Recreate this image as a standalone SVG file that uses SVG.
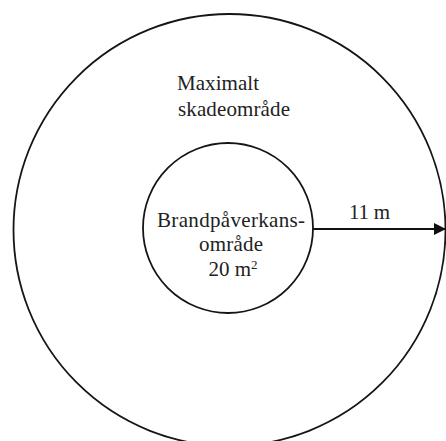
<svg xmlns="http://www.w3.org/2000/svg" width="446" height="441" viewBox="0 0 446 441">
<style>
.c{fill:none;stroke:#151515;stroke-width:1.8}
.t{font-family:'Liberation Serif','DejaVu Serif',serif;font-size:21px;fill:#222}
.m{text-anchor:middle}
</style>
<defs>
<marker id="ah" viewBox="0 0 12 12" refX="12" refY="6" markerWidth="12" markerHeight="12" markerUnits="userSpaceOnUse" orient="auto">
<path d="M0,0 L12,6 L0,12 Z" fill="#111"/>
</marker>
</defs>
<rect width="446" height="441" fill="#fff"/>
<g id="outer">
<circle class="c" cx="229.5" cy="230" r="216"/>
<text class="t" x="177" y="90" textLength="82">Maximalt</text>
<text class="t" x="178" y="116" textLength="112">skadeområde</text>
</g>
<g id="inner">
<circle class="c" cx="228" cy="228" r="85"/>
<text class="t m" x="231" y="227" textLength="148">Brandpåverkans-</text>
<text class="t m" x="231" y="251" textLength="64">område</text>
<text class="t m" x="233" y="276">20 m<tspan font-size="13" dy="-7">2</tspan></text>
</g>
<g id="connectors">
<line x1="313" y1="229" x2="446" y2="229" stroke="#111" stroke-width="1.8" marker-end="url(#ah)"/>
<text class="t m" x="369.5" y="219" textLength="41">11 m</text>
</g>
</svg>
